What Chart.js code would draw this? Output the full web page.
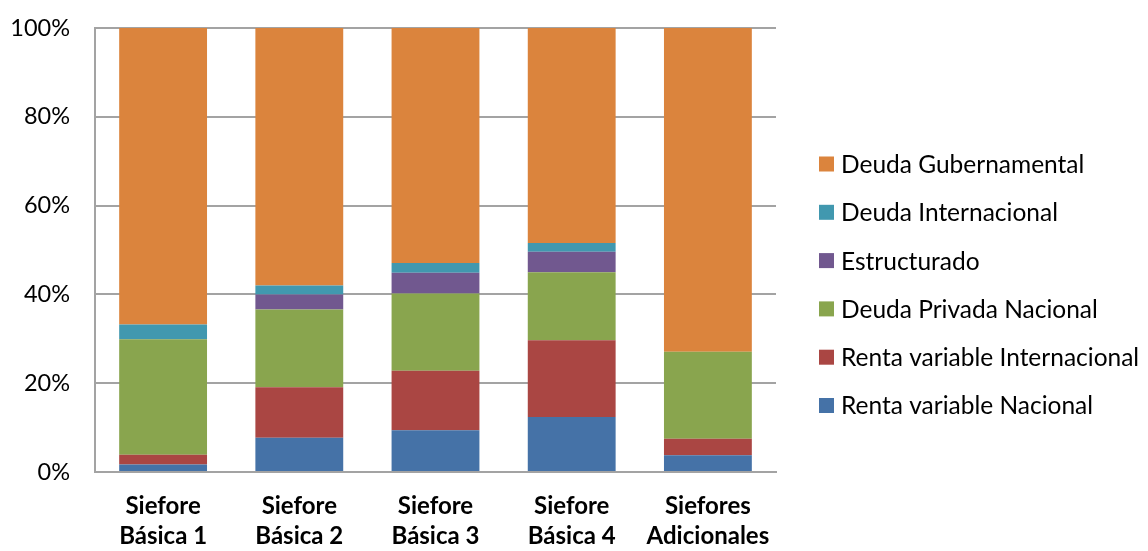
<!DOCTYPE html>
<html>
<head>
<meta charset="utf-8">
<script src="https://cdn.jsdelivr.net/npm/chart.js@4/dist/chart.umd.min.js"></script>
<style>
  html, body { margin: 0; padding: 0; background: #ffffff; }
  #wrap { width: 1148px; height: 551px; position: relative; }
</style>
</head>
<body>
<div id="wrap"><canvas id="c" width="1148" height="551"></canvas></div>
<script>
// Portfolio composition of each Siefore, as % of total assets
const categories = [
  ["Siefore", "Básica 1"],
  ["Siefore", "Básica 2"],
  ["Siefore", "Básica 3"],
  ["Siefore", "Básica 4"],
  ["Siefores", "Adicionales"]
];
const rentaVariableNacional       = [1.7, 7.7, 9.4, 12.4, 3.8];
const rentaVariableInternacional  = [2.2, 11.4, 13.4, 17.3, 3.7];
const deudaPrivadaNacional        = [26.0, 17.5, 17.4, 15.3, 19.6];
const estructurado                = [0.0, 3.4, 4.7, 4.6, 0.0];
const deudaInternacional          = [3.3, 2.0, 2.2, 2.0, 0.0];
const deudaGubernamental          = [66.8, 58.0, 52.9, 48.4, 72.9];
const yTicks = [0, 20, 40, 60, 80, 100];

const FONT = "Lato, 'Open Sans', sans-serif";

const series = [
  { label: "Renta variable Nacional",      data: rentaVariableNacional,      color: "#4572A7" },
  { label: "Renta variable Internacional", data: rentaVariableInternacional, color: "#AA4643" },
  { label: "Deuda Privada Nacional",       data: deudaPrivadaNacional,       color: "#89A54E" },
  { label: "Estructurado",                 data: estructurado,               color: "#71588F" },
  { label: "Deuda Internacional",          data: deudaInternacional,         color: "#4198AF" },
  { label: "Deuda Gubernamental",          data: deudaGubernamental,         color: "#DB843D" }
];

// Legend drawn to the right of the plot, top entry = last stacked series
const sideLegend = {
  id: "sideLegend",
  afterDraw(chart) {
    const ctx = chart.ctx;
    ctx.save();
    ctx.font = "24.5px " + FONT;
    ctx.textBaseline = "middle";
    ctx.textAlign = "left";
    const items = chart.data.datasets.slice().reverse();
    items.forEach((ds, i) => {
      const cy = 164 + i * 48.3;
      ctx.fillStyle = ds.backgroundColor;
      ctx.fillRect(819, cy - 7.5, 15, 15);
      ctx.fillStyle = "#000000";
      ctx.fillText(ds.label, 841, cy + 1);
    });
    ctx.restore();
  }
};

new Chart(document.getElementById("c"), {
  type: "bar",
  data: {
    labels: categories,
    datasets: series.map(s => ({
      label: s.label,
      data: s.data,
      backgroundColor: s.color,
      borderWidth: 0,
      barPercentage: 0.645,
      categoryPercentage: 1.0
    }))
  },
  options: {
    responsive: false,
    animation: false,
    devicePixelRatio: 1,
    layout: { autoPadding: false, padding: { left: 0, right: 372, top: 28, bottom: 0 } },
    plugins: {
      legend: { display: false },
      tooltip: { enabled: false }
    },
    scales: {
      x: {
        stacked: true,
        grid: { display: false, drawTicks: false },
        border: { display: true, color: "#a3a3a3", width: 2 },
        ticks: {
          color: "#000000",
          font: { family: FONT, size: 24, weight: "bold", lineHeight: 1.26 },
          padding: 19,
          maxRotation: 0,
          autoSkip: false
        },
        afterFit(s) { s.height = 79; }
      },
      y: {
        stacked: true,
        min: 0,
        max: 100,
        afterBuildTicks(s) { s.ticks = yTicks.map(v => ({ value: v })); },
        grid: { color: "#a3a3a3", lineWidth: 2, drawTicks: false },
        border: { display: true, color: "#a3a3a3", width: 2 },
        ticks: {
          color: "#000000",
          font: { family: FONT, size: 23.5 },
          padding: 25,
          callback: v => v + "%"
        },
        afterFit(s) {
          s.width = 95;
          s.paddingTop = 0;
          s.paddingBottom = 0;
        }
      }
    }
  },
  plugins: [sideLegend]
});
</script>
</body>
</html>
